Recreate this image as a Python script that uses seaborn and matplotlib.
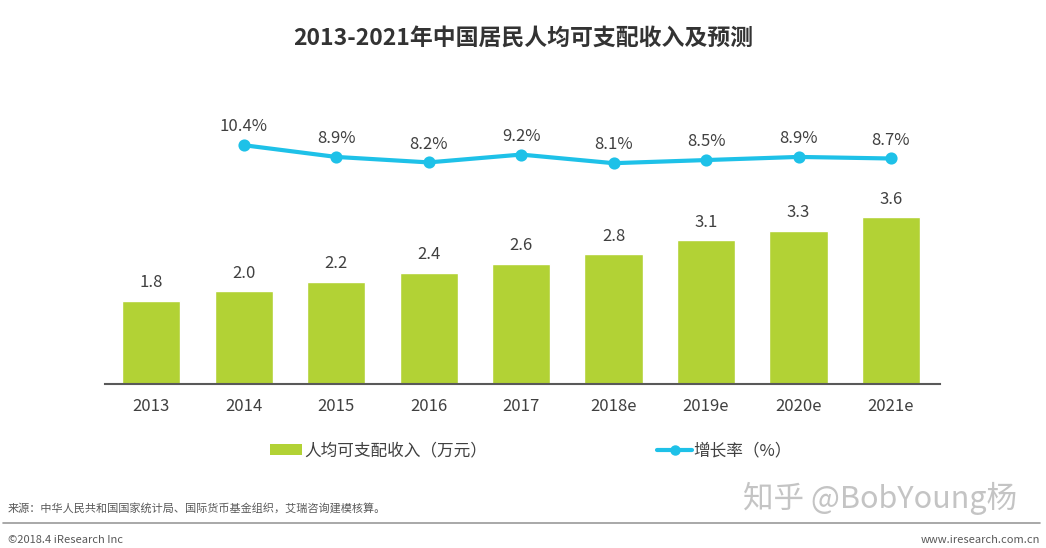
import numpy as np
import pandas as pd
import matplotlib
matplotlib.use("Agg")
import matplotlib.pyplot as plt
import seaborn as sns
from matplotlib.patches import Patch
from matplotlib.lines import Line2D

sns.set_theme(style="white")
plt.rcParams['font.family'] = ['Noto Sans CJK SC', 'DejaVu Sans']

# data
years = ['2013', '2014', '2015', '2016', '2017', '2018e', '2019e', '2020e', '2021e']
income = [1.8, 2.0, 2.2, 2.4, 2.6, 2.8, 3.1, 3.3, 3.6]
growth = [np.nan, 10.4, 8.9, 8.2, 9.2, 8.1, 8.5, 8.9, 8.7]
growth_labels = ['', '10.4%', '8.9%', '8.2%', '9.2%', '8.1%', '8.5%', '8.9%', '8.7%']

bar_color = "#B2D235"
line_color = "#1EC1E8"
text_color = "#404040"

df = pd.DataFrame({"year": years, "income": income, "growth": growth})

W, H = 1046, 548
fig = plt.figure(figsize=(W / 100, H / 100), dpi=100)
ax = fig.add_axes([105 / W, 1 - 384 / H, (940 - 105) / W, (384 - 100) / H])
ax2 = ax.twinx()

sns.barplot(data=df, x="year", y="income", order=years, color=bar_color,
            width=0.63, saturation=1, ax=ax)
sns.pointplot(data=df, x="year", y="growth", order=years, color=line_color,
              errorbar=None, markers="o", markersize=6.5, linewidth=3, ax=ax2)

ax.set_xlim(-0.5, 8.53)
ax.set_ylim(0, 284 / 46.3)
ax2.set_ylim(-20.1, 16.17)

for i, v in enumerate(income):
    ax.annotate(f"{v:.1f}", (i, v), xytext=(0, 7), textcoords="offset points",
                ha="center", va="bottom", fontsize=12, color=text_color)
for i, v in enumerate(growth):
    if not np.isnan(v):
        ax2.annotate(growth_labels[i], (i, v), xytext=(0, 7), textcoords="offset points",
                     ha="center", va="bottom", fontsize=12, color=text_color)

for a in (ax, ax2):
    for s in a.spines.values():
        s.set_visible(False)
    a.set_xlabel("")
    a.set_ylabel("")
    a.set_yticks([])
    a.grid(False)
ax.spines["bottom"].set_visible(True)
ax.spines["bottom"].set_color("#595959")
ax.spines["bottom"].set_linewidth(1.5)
ax.tick_params(axis="x", length=0, pad=10, labelsize=12, labelcolor=text_color)
ax2.tick_params(axis="x", length=0)

fig.text(0.5, 1 - 38 / H, "2013-2021年中国居民人均可支配收入及预测", ha="center", va="center",
         fontsize=16.5, fontweight="bold", color="#333333")

# legends
h1 = [Patch(facecolor=bar_color, edgecolor="none")]
h2 = [Line2D([0], [0], color=line_color, lw=3, marker="o", markersize=6.5)]
leg1 = fig.legend(h1, ["人均可支配收入（万元）"], loc="center left",
                  bbox_to_anchor=(270 / W, 1 - 451 / H), frameon=False, borderpad=0,
                  borderaxespad=0, handlelength=1.9, handleheight=0.6, handletextpad=0.15,
                  fontsize=12, labelcolor=text_color)
leg2 = fig.legend(h2, ["增长率（%）"], loc="center left",
                  bbox_to_anchor=(657 / W, 1 - 451 / H), frameon=False, borderpad=0,
                  borderaxespad=0, handlelength=2.1, handletextpad=0.1,
                  fontsize=12, labelcolor=text_color)

# footer
fig.text(8 / W, 1 - 508 / H, "来源：中华人民共和国国家统计局、国际货币基金组织，艾瑞咨询建模核算。",
         ha="left", va="center", fontsize=8, color="#595959")
fig.text(880 / W, 1 - 498 / H, "知乎 @BobYoung杨", ha="center", va="center",
         fontsize=22, color="#c4c4c4")
fig.add_artist(Line2D([3 / W, 1040 / W], [1 - 523 / H, 1 - 523 / H],
                      transform=fig.transFigure, color="#9a9a9a", lw=1.2))
fig.text(8 / W, 1 - 540 / H, "©2018.4 iResearch Inc", ha="left", va="center",
         fontsize=8, color="#595959")
fig.text(1040 / W, 1 - 540 / H, "www.iresearch.com.cn", ha="right", va="center",
         fontsize=8, color="#595959")

fig.savefig("out.png", dpi=100)
